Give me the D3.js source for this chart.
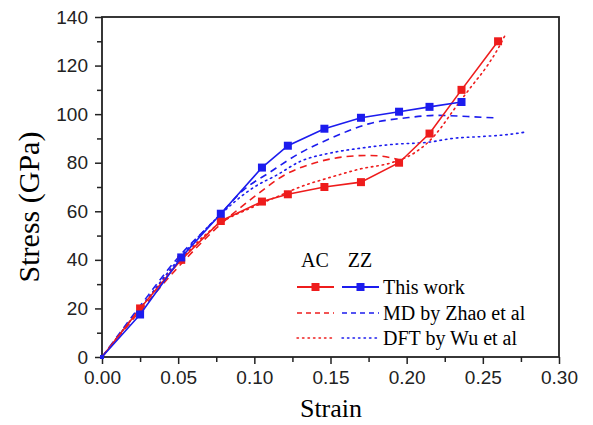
<!DOCTYPE html>
<html>
<head>
<meta charset="utf-8">
<script src="https://cdn.jsdelivr.net/npm/d3@7"></script>
<style>
  body { margin: 0; background: white; }
  svg { display: block; }
</style>
</head>
<body>
<svg></svg>
<script>
// This work (solid lines with squares)
const strainThis = [0, 0.025, 0.052, 0.078, 0.105, 0.122, 0.146, 0.170, 0.195, 0.215, 0.236, 0.26]
const stressThisAC = [0, 20, 40, 56, 64, 67, 70, 72, 80, 92, 110, 130]
const stressThisZZ = [0, 17.5, 41, 59, 78, 87, 94, 98.5, 101, 103, 105]

// MD by Zhao et al (dashed)
const strainMdAC = [0, 0.025, 0.05, 0.075, 0.1, 0.12, 0.14, 0.16, 0.175, 0.19, 0.196]
const stressMdAC = [0, 19, 37, 53, 66, 75, 80, 82.5, 83, 82, 81]
const strainMdZZ = [0, 0.025, 0.05, 0.075, 0.093, 0.11, 0.13, 0.15, 0.175, 0.2, 0.22, 0.24, 0.257]
const stressMdZZ = [0, 21, 41, 57, 68.8, 76, 84, 90, 96, 98.5, 99.5, 99, 98.5]

// DFT by Wu et al (dotted)
const strainDftAC = [0, 0.025, 0.05, 0.075, 0.1, 0.115, 0.13, 0.15, 0.17, 0.19, 0.205, 0.215, 0.222, 0.23, 0.242, 0.253, 0.26, 0.265]
const stressDftAC = [0, 20, 39, 54, 62, 66, 70, 74, 77.5, 80, 84, 89, 94, 101, 111, 120, 127, 133]
const strainDftZZ = [0, 0.025, 0.05, 0.075, 0.1, 0.115, 0.13, 0.15, 0.17, 0.19, 0.215, 0.23, 0.25, 0.265, 0.279]
const stressDftZZ = [0, 20, 40, 57, 70, 75, 80.5, 84, 86, 87.5, 88.5, 90, 90.8, 91.5, 92.7]

const xTicks = [0, 0.05, 0.1, 0.15, 0.2, 0.25, 0.3]
const yTicks = [0, 20, 40, 60, 80, 100, 120, 140]
const legendCols = ["AC", "ZZ"]
const legendLabels = ["This work", "MD by Zhao et al", "DFT by Wu et al"]

const w = 593
const h = 425
const plotLeft = 102
const plotRight = 559
const plotTop = 17
const plotBottom = 357

const red = "#ee1c1c"
const blue = "#1c1cee"

const svg = d3.select("svg").attr("width", w).attr("height", h)

const xScale = d3.scaleLinear().domain([0, 0.3]).range([plotLeft, plotRight])
const yScale = d3.scaleLinear().domain([0, 140]).range([plotBottom, plotTop])

const zip = (xs, ys) => ys.map((y, i) => [xs[i], y])

const series = [
  { pts: zip(strainDftAC, stressDftAC), color: red, dash: "1.5,4", smooth: true },
  { pts: zip(strainDftZZ, stressDftZZ), color: blue, dash: "1.5,4", smooth: true },
  { pts: zip(strainMdAC, stressMdAC), color: red, dash: "7,5", smooth: true },
  { pts: zip(strainMdZZ, stressMdZZ), color: blue, dash: "7,5", smooth: true },
  { pts: zip(strainThis, stressThisAC), color: red, dash: null, smooth: false, marker: true },
  { pts: zip(strainThis, stressThisZZ), color: blue, dash: null, smooth: false, marker: true },
]

// axes (ticks outside, minor ticks between)
const xAxis = d3.axisBottom(xScale).tickValues(xTicks).tickFormat(d3.format(".2f")).tickSize(7).tickPadding(7)
const yAxis = d3.axisLeft(yScale).tickValues(yTicks).tickFormat(d3.format("d")).tickSize(7).tickPadding(7)
const xMinor = d3.axisBottom(xScale).tickValues(d3.range(0.025, 0.3, 0.05)).tickFormat("").tickSize(5)
const yMinor = d3.axisLeft(yScale).tickValues(d3.range(10, 140, 20)).tickFormat("").tickSize(5)

const styleAxis = (g) => {
  g.select(".domain").remove()
  g.selectAll("line").attr("stroke", "#222").attr("stroke-width", 1.5)
  g.selectAll("text")
    .attr("fill", "#222")
    .style("font-family", "'Liberation Sans', Arial, sans-serif")
    .style("font-size", "19px")
}

svg.append("g").attr("transform", `translate(0,${plotBottom})`).call(xAxis).call(styleAxis)
svg.append("g").attr("transform", `translate(0,${plotBottom})`).call(xMinor).call(styleAxis)
svg.append("g").attr("transform", `translate(${plotLeft},0)`).call(yAxis).call(styleAxis)
svg.append("g").attr("transform", `translate(${plotLeft},0)`).call(yMinor).call(styleAxis)

svg
  .append("rect")
  .attr("x", plotLeft)
  .attr("y", plotTop)
  .attr("width", plotRight - plotLeft)
  .attr("height", plotBottom - plotTop)
  .attr("fill", "none")
  .attr("stroke", "#222")
  .attr("stroke-width", 1.8)

// curves
const lineLinear = d3.line().x((d) => xScale(d[0])).y((d) => yScale(d[1]))
const lineSmooth = d3.line().x((d) => xScale(d[0])).y((d) => yScale(d[1])).curve(d3.curveMonotoneX)

series.forEach((s) => {
  svg
    .append("path")
    .attr("d", (s.smooth ? lineSmooth : lineLinear)(s.pts))
    .attr("fill", "none")
    .attr("stroke", s.color)
    .attr("stroke-width", 1.6)
    .attr("stroke-dasharray", s.dash)
    .attr("stroke-linecap", s.dash && s.dash.startsWith("1.5") ? "round" : "butt")
  if (s.marker) {
    svg
      .selectAll(null)
      .data(s.pts.slice(1))
      .enter()
      .append("rect")
      .attr("x", (d) => xScale(d[0]) - 4)
      .attr("y", (d) => yScale(d[1]) - 4)
      .attr("width", 8)
      .attr("height", 8)
      .attr("fill", s.color)
  }
})
// origin point drawn small
svg
  .append("rect")
  .attr("x", xScale(0) - 2)
  .attr("y", yScale(0) - 2)
  .attr("width", 4)
  .attr("height", 4)
  .attr("fill", blue)

// axis titles
svg
  .append("text")
  .attr("x", 331)
  .attr("y", 417)
  .attr("text-anchor", "middle")
  .style("font-family", "'Liberation Serif', 'Times New Roman', serif")
  .style("font-size", "26px")
  .text("Strain")

svg
  .append("text")
  .attr("transform", "translate(39,207) rotate(-90)")
  .attr("text-anchor", "middle")
  .style("font-family", "'Liberation Serif', 'Times New Roman', serif")
  .style("font-size", "30px")
  .text("Stress (GPa)")

// legend
const legend = svg.append("g").attr("id", "legend")
const colX = [297, 342]
const colColor = [red, blue]
const rowY = [287, 313, 338]
const rowDash = [null, "5,4", "1.5,4"]

legendCols.forEach((c, i) => {
  legend
    .append("text")
    .attr("x", colX[i] + 18)
    .attr("y", 267)
    .attr("text-anchor", "middle")
    .style("font-family", "'Liberation Serif', 'Times New Roman', serif")
    .style("font-size", "20px")
    .text(c)
})

legendLabels.forEach((lab, r) => {
  colX.forEach((x0, i) => {
    legend
      .append("line")
      .attr("x1", x0)
      .attr("x2", x0 + 37)
      .attr("y1", rowY[r])
      .attr("y2", rowY[r])
      .attr("stroke", colColor[i])
      .attr("stroke-width", r === 0 ? 2 : 1.4)
      .attr("stroke-dasharray", rowDash[r])
      .attr("stroke-linecap", r === 2 ? "round" : "butt")
    if (r === 0) {
      legend
        .append("rect")
        .attr("x", x0 + 18.5 - 4)
        .attr("y", rowY[r] - 4)
        .attr("width", 8)
        .attr("height", 8)
        .attr("fill", colColor[i])
    }
  })
  legend
    .append("text")
    .attr("x", 383)
    .attr("y", rowY[r] + 7)
    .style("font-family", "'Liberation Serif', 'Times New Roman', serif")
    .style("font-size", "20px")
    .text(lab)
})
</script>
</body>
</html>
